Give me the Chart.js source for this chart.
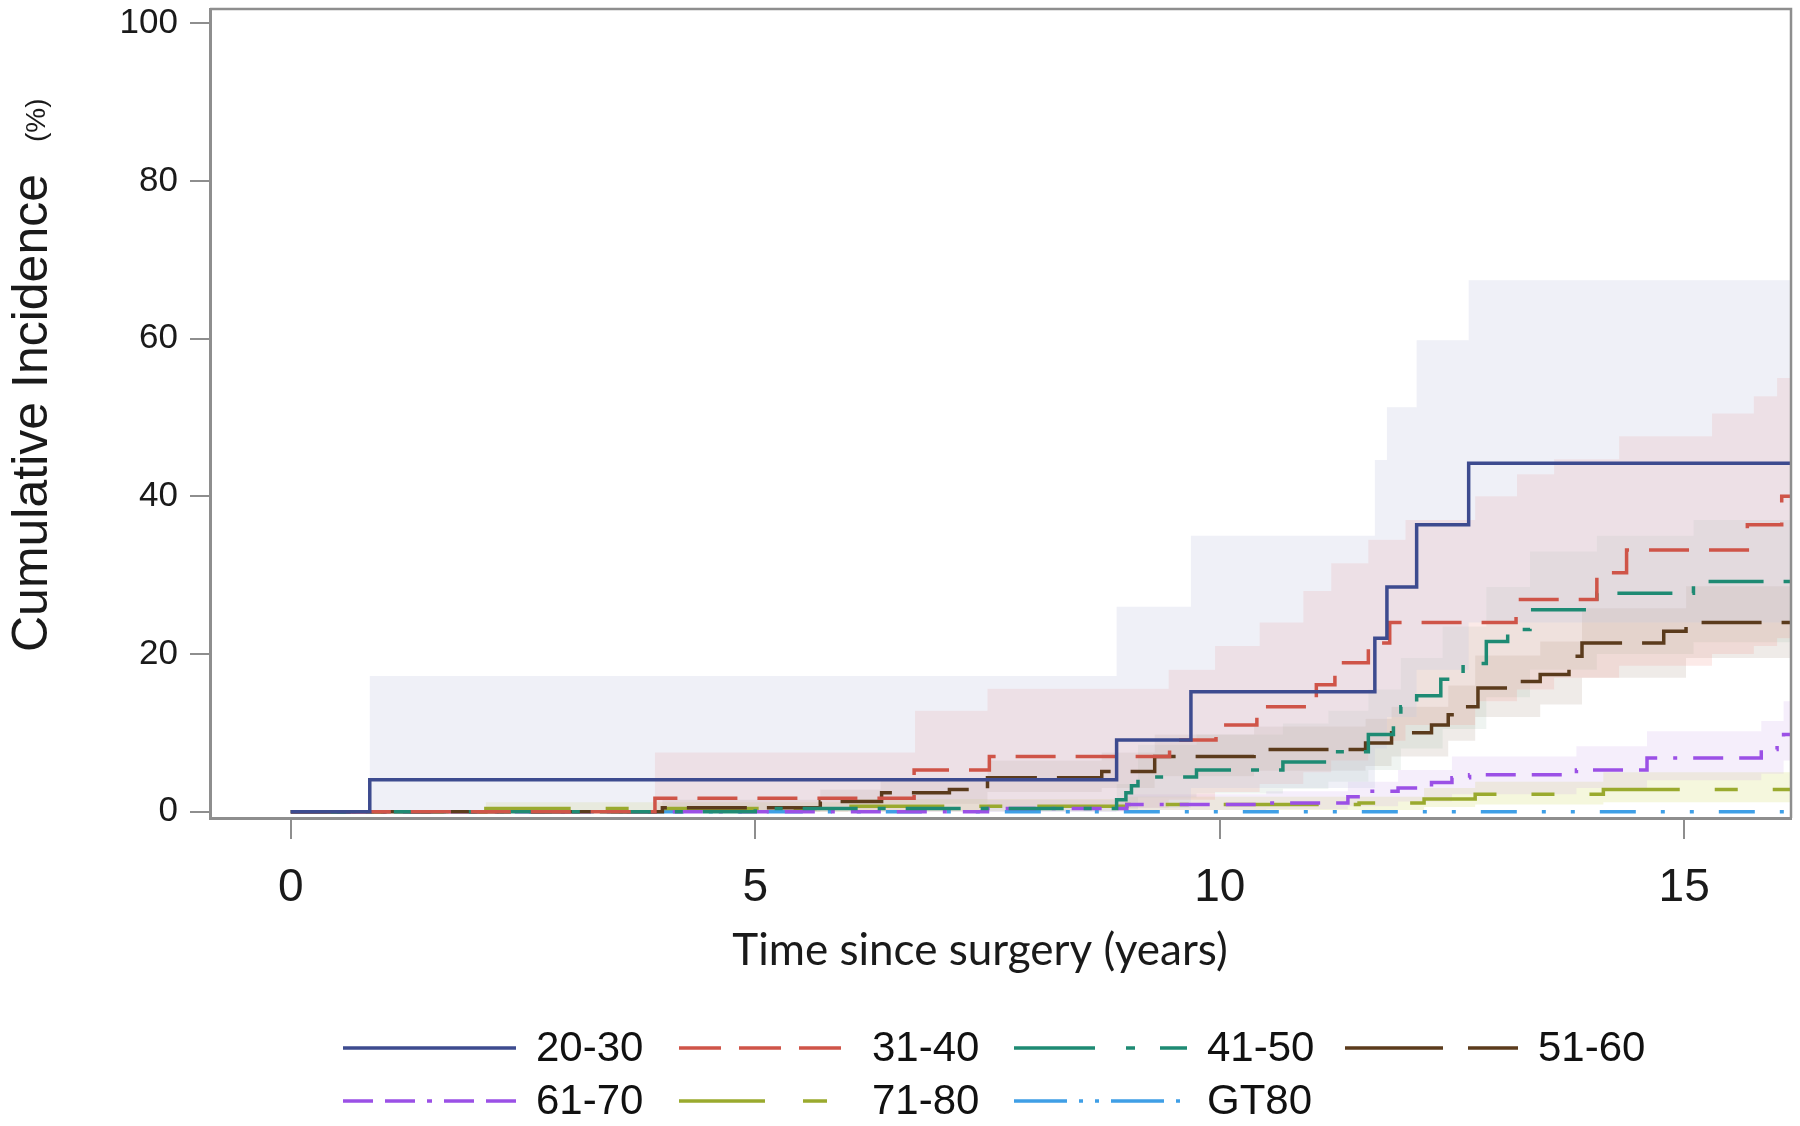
<!DOCTYPE html>
<html>
<head>
<meta charset="utf-8">
<script src="https://cdn.jsdelivr.net/npm/chart.js@4.4.1/dist/chart.umd.min.js"></script>
<style>
  html, body { margin: 0; padding: 0; background: #fff; }
  #wrap { width: 1800px; height: 1126px; position: relative; }
</style>
</head>
<body>
<div id="wrap"><canvas id="ci-chart"></canvas></div>
<script>
// age groups
var groups = ['20-30', '31-40', '41-50', '51-60', '61-70', '71-80', 'GT80'];

// step curves: time since surgery (years) and cumulative incidence (%) from that time on
var t2030 = [0, 0.85, 8.89, 9.69, 11.67, 11.8, 12.12, 12.68, 16.15];
var y2030 = [0, 4.05, 9.1, 15.2, 22.0, 28.5, 36.4, 44.2, 44.2];

var t3140 = [0, 3.92, 6.71, 7.52, 9.46, 9.96, 10.4, 11.04, 11.24, 11.6, 11.83, 13.19, 14.06, 14.38, 15.68, 16.05, 16.15];
var y3140 = [0, 1.7, 5.3, 7.0, 9.1, 11.0, 13.3, 16.1, 18.9, 21.4, 24.0, 26.9, 30.3, 33.2, 36.4, 40.0, 40.0];

var t4150 = [0, 5.0, 8.89, 8.99, 9.05, 9.12, 9.75, 10.68, 11.17, 11.6, 11.87, 11.95, 12.12, 12.38, 12.62, 12.87, 13.1, 13.34, 14.06, 15.1, 16.15];
var y4150 = [0, 0.4, 1.5, 2.4, 3.3, 4.4, 5.3, 6.3, 7.6, 9.8, 12.3, 13.3, 14.7, 16.8, 18.8, 21.6, 23.1, 25.6, 27.7, 29.2, 29.2];

var t5160 = [0, 4.0, 5.7, 6.36, 7.09, 7.5, 8.73, 9.3, 10.37, 11.57, 11.85, 12.28, 12.46, 12.62, 12.78, 13.2, 13.45, 13.76, 13.9, 14.78, 15.02, 16.15];
var y5160 = [0, 0.5, 1.3, 2.4, 2.8, 4.3, 5.1, 7.0, 7.9, 8.7, 10.0, 11.0, 12.3, 13.3, 15.7, 16.5, 17.4, 19.7, 21.4, 22.9, 24.0, 24.0];

var t6170 = [0, 7.5, 9.0, 10.5, 11.38, 11.52, 11.92, 12.28, 12.5, 12.69, 13.84, 14.6, 15.83, 16.0, 16.07, 16.15];
var y6170 = [0, 0.4, 0.9, 1.1, 1.9, 2.6, 3.0, 3.7, 4.3, 4.7, 5.3, 6.8, 7.9, 8.9, 9.8, 9.8];

var t7180 = [0, 2.1, 6.0, 9.0, 11.5, 12.2, 12.75, 14.13, 16.15];
var y7180 = [0, 0.4, 0.7, 0.9, 1.1, 1.6, 2.2, 2.8, 2.8];

var tGT80 = [0, 16.15];
var yGT80 = [0, 0];

// confidence bands: times, upper and lower limits (%)
var b2030T  = [0, 0.85, 8.89, 9.69, 11.67, 11.8, 12.12, 12.68, 16.15];
var b2030Hi = [0, 17.2, 26.0, 35.0, 44.6, 51.3, 59.8, 67.4, 67.4];
var b2030Lo = [0, 0, 0.5, 3.0, 8.0, 12.0, 18.0, 24.0, 24.0];

var b3140T  = [0, 3.92, 6.72, 7.5, 9.45, 9.95, 10.43, 10.9, 11.2, 11.6, 12.0, 12.75, 13.2, 13.6, 14.3, 15.3, 15.75, 16.0, 16.15];
var b3140Hi = [0, 7.5, 12.8, 15.6, 18.0, 21.0, 24.0, 28.0, 31.5, 34.5, 37.0, 40.0, 42.8, 44.7, 47.6, 50.5, 52.7, 55.0, 55.0];
var b3140Lo = [0, 0, 0, 0.5, 1.5, 2.5, 3.5, 5.0, 6.5, 9.0, 11.0, 14.0, 15.5, 17.0, 18.5, 20.0, 21.0, 22.0, 22.0];

var b4150T  = [0, 8.89, 9.12, 9.75, 10.68, 11.17, 11.6, 11.95, 12.4, 12.87, 13.34, 14.06, 15.1, 16.15];
var b4150Hi = [0, 3.5, 8.5, 9.8, 11.2, 12.8, 15.5, 19.5, 23.5, 28.5, 33.0, 35.0, 37.0, 37.0];
var b4150Lo = [0, 0.3, 1.8, 2.3, 2.9, 3.8, 5.3, 8.0, 10.5, 14.5, 18.0, 20.0, 21.5, 21.5];

var b5160T  = [0, 4.0, 5.7, 6.35, 7.5, 8.73, 9.3, 10.37, 11.57, 11.85, 12.46, 12.75, 13.45, 13.9, 15.02, 16.15];
var b5160Hi = [0, 1.5, 2.8, 4.2, 6.5, 7.5, 9.8, 10.8, 11.8, 13.3, 16.0, 19.8, 21.6, 25.8, 28.6, 28.6];
var b5160Lo = [0, 0, 0.4, 1.0, 2.5, 3.0, 4.5, 5.2, 5.8, 7.0, 9.0, 12.0, 13.6, 17.0, 19.5, 19.5];

var b6170T  = [0, 7.5, 9.0, 10.5, 11.38, 11.92, 12.5, 13.84, 14.6, 15.83, 16.07, 16.15];
var b6170Hi = [0, 1.5, 2.2, 2.6, 3.8, 5.3, 7.0, 8.3, 10.2, 11.5, 14.0, 14.0];
var b6170Lo = [0, 0, 0.2, 0.3, 0.7, 1.3, 2.2, 3.0, 4.0, 4.8, 6.5, 6.5];

var b7180T  = [0, 2.1, 6.0, 9.0, 12.2, 12.75, 14.13, 16.15];
var b7180Hi = [0, 1.2, 1.6, 1.9, 3.0, 3.8, 5.0, 5.0];
var b7180Lo = [0, 0, 0.1, 0.2, 0.6, 0.9, 1.2, 1.2];

var xTicks = [0, 5, 10, 15];
var yTicks = [0, 20, 40, 60, 80, 100];

// styles
var lineColors = ['#3d4b8f', '#cf5448', '#1e8a73', '#5b3b1c', '#9b50e6', '#9aaa2e', '#3f9fe6'];
var lineDash = [[], [40, 20], [55, 20, 8, 20], [60, 20], [30, 16, 30, 16, 4, 16], [95, 35, 23, 35], [36, 25, 4, 25, 4, 25]];
var legendDash = [[], [42, 18], [81, 31, 9, 25], [98, 25], [30, 12, 30, 12, 5, 12], [86, 38, 24, 38], [53, 12, 4, 12, 4, 12]];
var bandColors = ['rgba(195,200,225,0.27)', 'rgba(240,150,140,0.20)', 'rgba(130,170,150,0.13)',
                  'rgba(160,135,120,0.17)', 'rgba(200,160,235,0.18)', 'rgba(215,225,120,0.25)'];

function pts(t, v) {
  return t.map(function(x, i) { return { x: x, y: v[i] }; });
}

var curves = [[t2030, y2030], [t3140, y3140], [t4150, y4150], [t5160, y5160], [t6170, y6170], [t7180, y7180], [tGT80, yGT80]];
var bands = [[b2030T, b2030Hi, b2030Lo], [b3140T, b3140Hi, b3140Lo], [b4150T, b4150Hi, b4150Lo],
             [b5160T, b5160Hi, b5160Lo], [b6170T, b6170Hi, b6170Lo], [b7180T, b7180Hi, b7180Lo]];

var datasets = [];
curves.forEach(function(c, i) {
  datasets.push({
    label: groups[i],
    data: pts(c[0], c[1]),
    borderColor: lineColors[i],
    borderWidth: 3.5,
    borderDash: lineDash[i],
    stepped: 'before',
    pointRadius: 0,
    fill: false
  });
});
bands.forEach(function(b, i) {
  datasets.push({
    label: groups[i] + ' upper',
    data: pts(b[0], b[1]),
    borderWidth: 0,
    borderColor: 'rgba(0,0,0,0)',
    backgroundColor: bandColors[i],
    stepped: 'before',
    pointRadius: 0,
    fill: '+1'
  });
  datasets.push({
    label: groups[i] + ' lower',
    data: pts(b[0], b[2]),
    borderWidth: 0,
    borderColor: 'rgba(0,0,0,0)',
    stepped: 'before',
    pointRadius: 0,
    fill: false
  });
});

var axisGray = '#8e8e8e';

var decor = {
  id: 'decor',
  afterDraw: function(chart) {
    var ctx = chart.ctx, a = chart.chartArea;
    ctx.save();
    // top and right frame
    ctx.strokeStyle = axisGray;
    ctx.lineWidth = 2.5;
    ctx.beginPath();
    ctx.moveTo(a.left, a.top);
    ctx.lineTo(a.right, a.top);
    ctx.lineTo(a.right, a.bottom);
    ctx.stroke();

    // y axis title
    ctx.fillStyle = '#1a1a1a';
    ctx.save();
    ctx.translate(47, 652);
    ctx.rotate(-Math.PI / 2);
    ctx.textBaseline = 'alphabetic';
    ctx.textAlign = 'left';
    ctx.font = '50px "Liberation Sans", Arial, sans-serif';
    ctx.fillText('Cumulative Incidence', 0, 0);
    ctx.font = '28px "Liberation Sans", Arial, sans-serif';
    ctx.fillText('(%)', 510, -2);
    ctx.restore();

    // x axis title
    ctx.font = '44px Lato, "Open Sans", sans-serif';
    ctx.textAlign = 'center';
    ctx.textBaseline = 'middle';
    ctx.fillText('Time since surgery (years)', 980, 951);

    // legend
    var colX = [343, 679, 1014, 1345];
    var rowY = [1048, 1101];
    ctx.font = '42px "Liberation Sans", Arial, sans-serif';
    ctx.textAlign = 'left';
    groups.forEach(function(g, i) {
      var cx = colX[i % 4], cy = rowY[Math.floor(i / 4)];
      ctx.strokeStyle = lineColors[i];
      ctx.lineWidth = 3.5;
      ctx.setLineDash(legendDash[i]);
      ctx.beginPath();
      ctx.moveTo(cx, cy);
      ctx.lineTo(cx + 173, cy);
      ctx.stroke();
      ctx.setLineDash([]);
      ctx.fillStyle = '#111';
      ctx.fillText(g, cx + 193, cy + 1);
    });
    ctx.restore();
  }
};

new Chart(document.getElementById('ci-chart'), {
  type: 'line',
  data: { datasets: datasets },
  options: {
    responsive: true,
    maintainAspectRatio: false,
    animation: false,
    layout: { padding: { left: 0, top: 9, right: 9, bottom: 158 } },
    plugins: { legend: { display: false }, tooltip: { enabled: false } },
    scales: {
      x: {
        type: 'linear',
        min: -0.87,
        max: 16.15,
        afterBuildTicks: function(s) { s.ticks = xTicks.map(function(v) { return { value: v }; }); },
        afterFit: function(s) { s.height = 150; s.paddingLeft = 0; s.paddingRight = 0; },
        grid: { drawOnChartArea: false, drawTicks: true, tickLength: 21, color: axisGray, lineWidth: 2 },
        border: { display: true, color: axisGray, width: 3 },
        ticks: { font: { family: '"Liberation Sans", Arial, sans-serif', size: 46 }, color: '#1a1a1a', padding: 22, maxRotation: 0, autoSkip: false }
      },
      y: {
        min: -0.8,
        max: 101.8,
        afterBuildTicks: function(s) { s.ticks = yTicks.map(function(v) { return { value: v }; }); },
        afterFit: function(s) { s.width = 210; s.paddingTop = 0; s.paddingBottom = 0; },
        grid: { drawOnChartArea: false, drawTicks: true, tickLength: 20, color: axisGray, lineWidth: 2 },
        border: { display: true, color: axisGray, width: 3 },
        ticks: { font: { family: '"Liberation Sans", Arial, sans-serif', size: 35 }, color: '#1a1a1a', padding: 12, autoSkip: false }
      }
    }
  },
  plugins: [decor]
});
</script>
</body>
</html>
